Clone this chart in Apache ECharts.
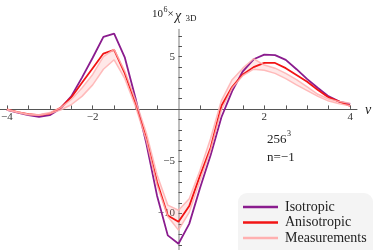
<!DOCTYPE html>
<html><head><meta charset="utf-8">
<script src="https://cdn.jsdelivr.net/npm/echarts@6/dist/echarts.min.js"></script>
<style>html,body{margin:0;padding:0;background:#fff}#c{width:374px;height:250px}</style>
</head><body><div id="c"></div>
<script>
const nu = [-4,-3.75,-3.5,-3.25,-3,-2.75,-2.5,-2.25,-2,-1.75,-1.5,-1.25,-1,-0.75,-0.5,-0.25,0,0.25,0.5,0.75,1,1.25,1.5,1.75,2,2.25,2.5,2.75,3,3.25,3.5,3.75,4];
const isotropic = [-0.1,-0.35,-0.6,-0.75,-0.6,0.05,1.2,3.0,4.9,6.9,7.2,4.9,1.0,-3.3,-8.3,-12.1,-12.9,-11.0,-7.6,-4.4,-0.8,1.7,3.6,4.75,5.2,5.15,4.7,3.8,2.85,2.0,1.2,0.7,0.45];
const anisotropic = [-0.05,-0.3,-0.5,-0.6,-0.45,0.1,1.1,2.5,3.9,5.3,5.65,3.4,0.5,-2.8,-7.0,-10.2,-10.8,-9.3,-6.4,-3.7,0.3,2.1,3.3,4.0,4.4,4.4,3.9,3.25,2.6,1.8,1.1,0.7,0.3];
const measUpper = [-0.05,-0.3,-0.5,-0.55,-0.35,0.1,0.9,2.0,3.3,5.0,5.7,3.6,0.8,-2.3,-6.3,-9.2,-9.7,-8.6,-5.9,-2.8,0.8,2.8,3.9,4.8,4.2,3.9,3.4,2.8,2.1,1.4,0.95,0.7,0.55];
const measLower = [-0.1,-0.35,-0.55,-0.6,-0.45,-0.1,0.4,1.2,2.3,3.8,4.7,2.9,0.2,-3.0,-7.3,-10.3,-11.6,-9.9,-6.9,-3.9,-0.1,2.0,3.2,3.8,3.7,3.4,2.9,2.3,1.75,1.2,0.75,0.5,0.3];
const xTickLabels = [-4,-2,2,4];
const xTicks = [-4,-3.5,-3,-2.5,-2,-1.5,-1,-0.5,0.5,1,1.5,2,2.5,3,3.5,4];
const yTickLabels = [-10,-5,5];
const yTicks = [-13,-12,-11,-10,-9,-8,-7,-6,-5,-4,-3,-2,-1,1,2,3,4,5,6,7];
const seriesNames = ['Isotropic','Anisotropic','Measurements'];

const minus = v => String(v).replace('-', '\u2212');
const pair = ys => nu.map((x, i) => [x, ys[i]]);
const serif = 'Liberation Serif';
const cIso = '#8a1c8e', cAni = '#f21414', cMeas = '#ffb0b0';
const W = 374, H = 250;

const chart = echarts.init(document.getElementById('c'), null, {renderer: 'canvas'});
chart.setOption({
  animation: false,
  grid: {left: 0, right: 17, top: 29.5, bottom: 0, outerBoundsMode: 'none', containLabel: false},
  xAxis: {
    type: 'value', min: -4.16, max: 4.16, position: 'bottom', splitLine: {show: false},
    axisLine: {onZero: false, lineStyle: {color: '#555', width: 1}},
    axisTick: {inside: true, length: 3.5, customValues: xTicks, lineStyle: {color: '#555'}},
    axisLabel: {customValues: xTickLabels, formatter: minus, margin: 3, fontFamily: serif, fontSize: 11, color: '#333'}
  },
  yAxis: {
    type: 'value', min: -13.5, max: 7.6, position: 'left', splitLine: {show: false},
    axisLine: {onZero: false, lineStyle: {color: '#a8a8a8', width: 1.5}},
    axisTick: {inside: true, length: 3.5, customValues: yTicks, lineStyle: {color: '#555'}},
    axisLabel: {customValues: yTickLabels, formatter: minus, margin: 3.5, fontFamily: serif, fontSize: 11, color: '#333'}
  },
  legend: {
    orient: 'vertical', left: 238, top: 193,
    padding: [7, 8, 1, 5],
    itemWidth: 35, itemHeight: 2.5, itemGap: 1.5, icon: 'rect',
    textStyle: {fontFamily: serif, fontSize: 14, color: '#222', lineHeight: 14, padding: [0, 0, 0, 2]},
    data: seriesNames
  },
  series: [
    {type: 'custom', name: 'band', silent: true, z: 1,
     data: [[0, 0]],
     renderItem: (params, api) => {
       const pts = [];
       for (let i = 0; i < nu.length; i++) pts.push(api.coord([nu[i], measUpper[i]]));
       for (let i = nu.length - 1; i >= 0; i--) pts.push(api.coord([nu[i], measLower[i]]));
       return {type: 'polygon', shape: {points: pts}, style: {fill: 'rgba(255,140,140,0.2)'}};
     }},
    {type: 'line', name: seriesNames[0], data: pair(isotropic), color: cIso, showSymbol: false, symbol: 'none', z: 2,
     lineStyle: {color: cIso, width: 1.8}},
    {type: 'line', name: seriesNames[1], data: pair(anisotropic), color: cAni, showSymbol: false, symbol: 'none', z: 3,
     lineStyle: {color: cAni, width: 1.8}},
    {type: 'line', name: seriesNames[2], data: pair(measUpper), color: cMeas, showSymbol: false, symbol: 'none', z: 4,
     lineStyle: {color: cMeas, width: 1.5, opacity: 0.85}},
    {type: 'line', name: seriesNames[2], data: pair(measLower), color: cMeas, showSymbol: false, symbol: 'none', z: 4,
     lineStyle: {color: cMeas, width: 1.5, opacity: 0.85}}
  ],
  graphic: [
    {type: 'rect', x: 238, y: 193, z: -1, silent: true, shape: {width: 135, height: 70, r: 9}, style: {fill: '#f4f4f4'}},
    {type: 'text', x: 152, y: 14, style: {text: '10', font: '11px "Liberation Serif"', fill: '#222', verticalAlign: 'middle'}},
    {type: 'text', x: 163.5, y: 9.5, style: {text: '6', font: '8px "Liberation Serif"', fill: '#222', verticalAlign: 'middle'}},
    {type: 'text', x: 167.5, y: 14.5, style: {text: '\u00d7', font: '11px "Liberation Serif"', fill: '#222', verticalAlign: 'middle'}},
    {type: 'text', x: 175, y: 16, style: {text: '\u03c7', font: 'italic 14px "Liberation Serif"', fill: '#222', verticalAlign: 'middle'}},
    {type: 'text', x: 185.5, y: 18.5, style: {text: '3D', font: '9px "Liberation Serif"', fill: '#222', verticalAlign: 'middle'}},
    {type: 'text', x: 365, y: 110, style: {text: '\u03bd', font: 'italic 14px "Liberation Serif"', fill: '#222', verticalAlign: 'middle'}},
    {type: 'text', x: 267, y: 140, style: {text: '256', font: '13px "Liberation Serif"', fill: '#222', verticalAlign: 'middle'}},
    {type: 'text', x: 287, y: 134, style: {text: '3', font: '8px "Liberation Serif"', fill: '#222', verticalAlign: 'middle'}},
    {type: 'text', x: 267, y: 158, style: {text: 'n=\u22121', font: '13px "Liberation Serif"', fill: '#222', verticalAlign: 'middle'}}
  ]
});
// place both axes through the origin, located via the library's own scales
const origin = chart.convertToPixel({gridIndex: 0}, [0, 0]);
chart.setOption({
  xAxis: {offset: origin[1] - H},
  yAxis: {offset: -origin[0]}
});
</script>
</body></html>
